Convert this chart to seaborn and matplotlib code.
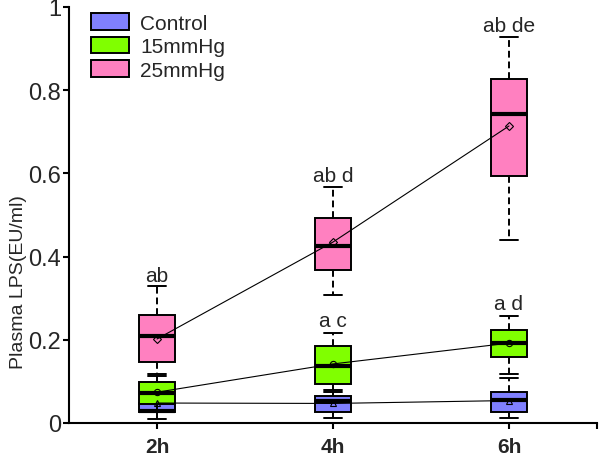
import numpy as np
import pandas as pd
import matplotlib
matplotlib.use("Agg")
import matplotlib.pyplot as plt
from matplotlib.patches import Patch
import seaborn as sns

# ---------------- data ----------------
times = ["2h", "4h", "6h"]
groups = ["Control", "15mmHg", "25mmHg"]
colors = ["#8080FF", "#80FF00", "#FF80C0"]

control_min = [0.010, 0.012, 0.012]
control_q1 = [0.026, 0.026, 0.026]
control_med = [0.030, 0.053, 0.055]
control_q3 = [0.048, 0.065, 0.075]
control_max = [0.088, 0.075, 0.108]
control_mean = [0.048, 0.047, 0.054]

p15_min = [0.030, 0.080, 0.118]
p15_q1 = [0.046, 0.094, 0.159]
p15_med = [0.072, 0.137, 0.192]
p15_q3 = [0.099, 0.185, 0.224]
p15_max = [0.113, 0.216, 0.257]
p15_mean = [0.074, 0.142, 0.192]

p25_min = [0.118, 0.308, 0.440]
p25_q1 = [0.147, 0.368, 0.594]
p25_med = [0.209, 0.425, 0.743]
p25_q3 = [0.260, 0.493, 0.827]
p25_max = [0.329, 0.567, 0.928]
p25_mean = [0.202, 0.435, 0.714]

sig_labels = ["ab", "ab d", "ab de", "a c", "a d"]
sig_x = ["2h", "4h", "6h", "4h", "6h"]
sig_y = [0.341, 0.582, 0.942, 0.233, 0.274]

# ---------------- build tables ----------------
summ = {
    "Control": [control_min, control_q1, control_med, control_q3, control_max],
    "15mmHg": [p15_min, p15_q1, p15_med, p15_q3, p15_max],
    "25mmHg": [p25_min, p25_q1, p25_med, p25_q3, p25_max],
}
means = {"Control": control_mean, "15mmHg": p15_mean, "25mmHg": p25_mean}

rows = []
for g in groups:
    for i, t in enumerate(times):
        for stat in summ[g]:
            rows.append({"time": t, "group": g, "value": stat[i]})
box_df = pd.DataFrame(rows)

mrows = []
for g in groups:
    for i, t in enumerate(times):
        mrows.append({"time": t, "group": g, "value": means[g][i]})
mean_df = pd.DataFrame(mrows)

# ---------------- style ----------------
sns.set_theme(style="ticks")
plt.rcParams["font.family"] = ["Liberation Sans", "DejaVu Sans"]
plt.rcParams["axes.linewidth"] = 1.5

fig = plt.figure(figsize=(6, 4.56), dpi=100)
ax = fig.add_axes([69 / 600, 1 - 424 / 456, (597 - 69) / 600, (424 - 8) / 456])

sns.boxplot(
    data=box_df, x="time", y="value", hue="group",
    order=times, hue_order=groups, palette=colors,
    dodge=False, width=0.2, whis=(0, 100), saturation=1,
    linecolor="black", linewidth=1.4, legend=False, ax=ax,
    medianprops={"linewidth": 3, "color": "black"},
    whiskerprops={"linestyle": (0, (3.5, 2)), "linewidth": 1.4},
    capprops={"linewidth": 1.4},
)

sns.pointplot(
    data=mean_df, x="time", y="value", hue="group",
    order=times, hue_order=groups, palette=["black"] * 3,
    markers=["^", "o", "D"], linestyles=["-", "-", "-"],
    dodge=False, errorbar=None, legend=False, ax=ax,
    linewidth=0.8, markersize=4.5, markeredgewidth=0.8,
    markerfacecolor="none",
)

for lab, xl, yv in zip(sig_labels, sig_x, sig_y):
    ax.text(times.index(xl), yv, lab, ha="center", va="baseline", fontsize=15)

ax.set_xlim(-0.5, 2.5)
ax.set_ylim(0, 1)
ax.set_yticks([0, 0.2, 0.4, 0.6, 0.8, 1.0])
ax.set_yticklabels(["0", "0.2", "0.4", "0.6", "0.8", "1"])
ax.set_xticks(range(len(times)))
ax.set_xticklabels(times, fontweight="bold")
ax.set_xticks([2.5], minor=True)
ax.tick_params(axis="x", which="both", length=4, width=1.5, pad=6, labelsize=15, color="black")
ax.tick_params(axis="y", length=4.5, width=1.5, pad=1, labelsize=17, color="black")
ax.set_xlabel("")
ax.set_ylabel("Plasma LPS(EU/ml)", fontsize=14)
ax.yaxis.set_label_coords(-0.08, 0.34)
sns.despine(ax=ax)
for s in ["left", "bottom"]:
    ax.spines[s].set_color("black")

handles = [Patch(facecolor=c, edgecolor="black", linewidth=1.4, label=g) for g, c in zip(groups, colors)]
ax.legend(handles=handles, loc="upper left", bbox_to_anchor=(91 / 600, 1 - 14 / 456),
          bbox_transform=fig.transFigure, frameon=False, fontsize=15,
          handlelength=1.8, handleheight=0.85, handletextpad=0.55,
          labelspacing=0.2, borderpad=0, borderaxespad=0)

fig.savefig("out.png", dpi=100)
